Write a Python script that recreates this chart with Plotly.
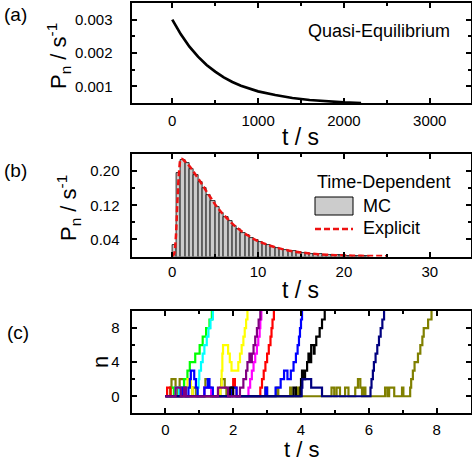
import plotly.graph_objects as go

W, H = 472, 461
FONT = "Arial, 'Liberation Sans', Helvetica, sans-serif"


def px(x):
    return x / W


def py(y):
    return 1 - y / H


# ---------------- panel (a): quasi-equilibrium ----------------
qe_t = [0, 100, 200, 300, 400, 500, 600, 700, 800, 900, 1000, 1200, 1400,
        1600, 1800, 2000, 2200]
qe_p = [0.00300, 0.00256, 0.00219, 0.00189, 0.00164, 0.00144, 0.00127,
        0.00113, 0.00102, 0.00093, 0.00085, 0.00074, 0.00065, 0.00059,
        0.00055, 0.00052, 0.00050]

# ---------------- panel (b): time-dependent ----------------
mc_t = [0.25, 0.75, 1.25, 1.75, 2.25, 2.75, 3.25, 3.75, 4.25, 4.75, 5.25,
        5.75, 6.25, 6.75, 7.25, 7.75, 8.25, 8.75, 9.25, 9.75, 10.25, 10.75,
        11.25, 11.75, 12.25, 12.75, 13.25, 13.75, 14.25, 14.75, 15.25,
        15.75, 16.25, 16.75, 17.25, 17.75, 18.25, 18.75, 19.25, 19.75,
        20.25, 20.75, 21.25, 21.75, 22.25, 22.75]
mc_p = [0.026, 0.195, 0.225, 0.218, 0.205, 0.190, 0.175, 0.160, 0.145,
        0.130, 0.115, 0.103, 0.092, 0.082, 0.072, 0.064, 0.056, 0.050,
        0.044, 0.039, 0.034, 0.030, 0.026, 0.023, 0.020, 0.018, 0.015,
        0.013, 0.012, 0.010, 0.009, 0.008, 0.007, 0.006, 0.005, 0.0045,
        0.004, 0.0035, 0.003, 0.0025, 0.002, 0.0018, 0.0015, 0.0013,
        0.0011, 0.001]
ex_t = [0, 0.2, 0.4, 0.6, 0.8, 1.0, 1.2, 1.5, 2, 2.5, 3, 3.5, 4, 4.5, 5,
        5.5, 6, 6.5, 7, 7.5, 8, 8.5, 9, 9.5, 10, 10.5, 11, 11.5, 12, 12.5,
        13, 14, 15, 16, 17, 18, 19, 20, 21, 22, 23, 24, 25]
ex_p = [0, 0.005, 0.04, 0.13, 0.20, 0.228, 0.228, 0.222, 0.212, 0.198,
        0.183, 0.168, 0.152, 0.137, 0.122, 0.109, 0.097, 0.087, 0.077,
        0.068, 0.060, 0.053, 0.047, 0.041, 0.036, 0.032, 0.028, 0.0245,
        0.0215, 0.019, 0.0165, 0.0125, 0.0095, 0.0072, 0.0055, 0.0042,
        0.0032, 0.0025, 0.0019, 0.0015, 0.0012, 0.001, 0.0008]

# ---------------- panel (c): trajectories ----------------
olive_t = [0, 0.15, 0.18, 0.3, 0.35, 0.4, 0.42, 0.55, 0.6, 0.8, 0.9, 1.15,
           1.18, 1.28, 1.35, 1.62, 1.65, 1.75, 1.8, 2.95, 3.0, 3.28, 3.33,
           3.68, 3.72, 3.88, 3.93, 4.9, 4.98, 5.05, 5.15, 5.3, 5.4, 5.6,
           5.68, 5.75, 5.8, 5.85, 5.9, 6.48, 6.55, 6.6, 6.75, 6.98, 7.02,
           7.22, 7.25, 7.3, 7.35, 7.45, 7.52, 7.58, 7.62, 7.75, 7.85]
olive_n = [0, 1, 2, 1, 0, 1, 2, 1, 0, 1, 0, 1, 2, 1, 0, 1, 2, 1, 0, 1, 0,
           1, 0, 1, 0, 1, 0, 1, 0, 1, 0, 1, 0, 1, 2, 1, 0, 1, 0, 1, 0, 1,
           0, 1, 0, 1, 2, 3, 4, 5, 6, 7, 8, 9, 10]
green_t = [0, 0.15, 0.25, 0.45, 0.55, 0.65, 0.72, 0.88, 1.01, 1.1, 1.2,
           1.3, 1.37]
green_n = [0, 1, 0, 1, 2, 3, 4, 5, 6, 7, 8, 9, 10]
cyan_t = [0, 0.3, 0.4, 0.95, 0.98, 1.0, 1.05, 1.1, 1.15, 1.22, 1.27, 1.33,
          1.4]
cyan_n = [0, 1, 0, 1, 2, 3, 4, 5, 6, 7, 8, 9, 10]
yellow_t = [0, 0.6, 0.65, 0.75, 0.8, 1.62, 1.66, 1.68, 1.7, 1.85, 1.9,
            1.95, 2.15, 2.2, 2.25, 2.3, 2.34, 2.38, 2.42]
yellow_n = [0, 1, 2, 1, 0, 1, 3, 5, 6, 5, 4, 3, 4, 5, 6, 7, 8, 9, 10]
red_t = [0, 0.05, 0.15, 1.95, 2.0, 2.05, 2.1, 2.8, 2.85, 2.9, 2.95, 3.0,
         3.05, 3.1, 3.13, 3.16, 3.2]
red_n = [0, 1, 0, 1, 2, 1, 0, 1, 2, 3, 4, 5, 6, 7, 8, 9, 10]
magenta_t = [0, 1.15, 1.35, 2.45, 2.5, 2.55, 2.6, 2.65, 2.7, 2.74, 2.78,
             2.8, 2.83]
magenta_n = [0, 1, 0, 1, 2, 3, 4, 5, 6, 7, 8, 9, 10]
blue_t = [0, 0.5, 0.6, 0.68, 0.72, 0.75, 0.85, 0.9, 0.95, 1.15, 1.25, 1.3,
          1.4, 1.95, 2.1, 2.95, 3.0, 3.25, 3.4, 3.5, 3.6, 3.7, 3.78, 3.85,
          3.9, 3.94, 3.97, 4.0, 4.03]
blue_n = [0, 1, 0, 1, 2, 3, 2, 1, 0, 1, 2, 1, 0, 1, 0, 1, 0, 1, 2, 3, 2,
          3, 4, 5, 6, 7, 8, 9, 10]
black_t = [0, 1.9, 2.0, 3.78, 3.85, 3.98, 4.0, 4.03, 4.08, 4.12, 4.18,
           4.22, 4.26, 4.3, 4.38, 4.4, 4.45, 4.55, 4.62, 4.7]
black_n = [0, 1, 0, 1, 0, 1, 2, 3, 2, 3, 4, 5, 4, 6, 5, 6, 7, 8, 9, 10]
navy_t = [0, 4.02, 4.04, 4.3, 4.62, 6.05, 6.08, 6.12, 6.15, 6.2, 6.25, 6.3,
          6.35, 6.4, 6.45]
navy_n = [0, 1, 2, 1, 0, 1, 2, 3, 4, 5, 6, 7, 8, 9, 10]
purple_t = [0, 0.3, 0.45, 0.55, 0.6, 1.55, 1.85, 2.2, 2.3, 2.38, 2.42,
            2.48, 2.52, 2.55, 2.6, 2.65, 2.7, 2.75, 2.8]
purple_n = [0, 1, 0, 1, 0, 1, 0, 1, 2, 3, 4, 5, 4, 5, 6, 7, 8, 9, 10]

trajectories = [
    (olive_t, olive_n, "#808000"),
    (green_t, green_n, "#00ff00"),
    (cyan_t, cyan_n, "#00ffff"),
    (yellow_t, yellow_n, "#ffff00"),
    (red_t, red_n, "#ff0000"),
    (magenta_t, magenta_n, "#ff00ff"),
    (blue_t, blue_n, "#0000ff"),
    (black_t, black_n, "#000000"),
    (navy_t, navy_n, "#000080"),
    (purple_t, purple_n, "#800080"),
]

fig = go.Figure()

fig.add_trace(go.Scatter(x=qe_t, y=qe_p, mode="lines",
                         line=dict(color="black", width=2.7),
                         xaxis="x", yaxis="y", showlegend=False))

fig.add_trace(go.Bar(x=mc_t, y=mc_p, width=0.5,
                     marker=dict(color="#cccccc",
                                 line=dict(color="black", width=0.8)),
                     xaxis="x2", yaxis="y2", showlegend=False))
fig.add_trace(go.Scatter(x=ex_t, y=ex_p, mode="lines", line_shape="spline",
                         line=dict(color="#ee1111", width=2.5,
                                   dash="6px,3px"),
                         xaxis="x2", yaxis="y2", showlegend=False))

for tt, nn, col in trajectories:
    fig.add_trace(go.Scatter(x=tt, y=nn, mode="lines", line_shape="hv",
                             line=dict(color=col, width=2.2),
                             xaxis="x3", yaxis="y3", showlegend=False))

XL, XR = 131.5, 470.5
tickfont = dict(family=FONT, size=15, color="black")


def axis_common():
    return dict(showline=True, linewidth=2, linecolor="black", mirror="ticks",
                ticks="inside", ticklen=5, tickwidth=1.5, tickcolor="black",
                showgrid=False, zeroline=False, tickfont=tickfont)


fig.update_layout(
    width=W, height=H,
    margin=dict(l=0, r=0, t=0, b=0),
    paper_bgcolor="white", plot_bgcolor="white",
    bargap=0,
    font=dict(family=FONT, color="black"),
    xaxis=dict(domain=[px(XL), px(XR)], range=[-475, 3475], dtick=1000,
               tick0=0, anchor="y", ticklabelstandoff=3,
               minor=dict(ticks="inside", ticklen=3, dtick=500, tick0=0,
                          tickcolor="black"),
               **axis_common()),
    yaxis=dict(domain=[py(103), py(3)], range=[0.0005, 0.0035],
               tickvals=[0.001, 0.002, 0.003], tickformat=".3f",
               anchor="x", ticklabelstandoff=14,
               minor=dict(ticks="inside", ticklen=3, dtick=0.0005,
                          tick0=0, tickcolor="black"),
               **axis_common()),
    xaxis2=dict(domain=[px(XL), px(XR)], range=[-4.75, 34.75], dtick=10,
                tick0=0, anchor="y2", ticklabelstandoff=0,
                minor=dict(ticks="inside", ticklen=3, dtick=5, tick0=0,
                           tickcolor="black"),
                **axis_common()),
    yaxis2=dict(domain=[py(256.5), py(154)], range=[0, 0.24],
                tick0=0.04, dtick=0.08, tickformat=".2f", anchor="x2",
                ticklabelstandoff=7,
                minor=dict(ticks="inside", ticklen=3, dtick=0.04, tick0=0,
                           tickcolor="black"),
                **axis_common()),
    xaxis3=dict(domain=[px(XL), px(XR)], range=[-1, 9], dtick=2, tick0=0,
                anchor="y3", ticklabelstandoff=2,
                minor=dict(ticks="inside", ticklen=3, dtick=1, tick0=0,
                           tickcolor="black"),
                **axis_common()),
    yaxis3=dict(domain=[py(413.3), py(311)], range=[-2, 10], dtick=4,
                tick0=0, anchor="x3", ticklabelstandoff=7,
                minor=dict(ticks="inside", ticklen=3, dtick=2, tick0=0,
                           tickcolor="black"),
                **axis_common()),
)

ann = []


def add_text(text, x, y, size, xanchor="center", yanchor="middle",
             angle=0):
    ann.append(dict(text=text, x=px(x), y=py(y), xref="paper",
                    yref="paper", showarrow=False, xanchor=xanchor,
                    yanchor=yanchor, textangle=angle,
                    font=dict(family=FONT, size=size, color="black")))


# panel labels
add_text("(a)", 2, 15, 19, xanchor="left")
add_text("(b)", 2, 170, 19, xanchor="left")
add_text("(c)", 5, 332, 19, xanchor="left")

# y titles
ytitle = "P<sub>n</sub> / s<sup>-1</sup>"
add_text(ytitle, 59, 56, 22, angle=-90)
add_text(ytitle, 68, 208, 22, angle=-90)
add_text("n", 100, 362, 22, angle=-90)

# x titles
add_text("t / s", 300, 137, 23)
add_text("t / s", 300, 290, 23)
add_text("t / s", 301, 449.5, 22)

# panel texts / legend
add_text("Quasi-Equilibrium", 452, 31, 18, xanchor="right")
add_text("Time-Dependent", 452, 182, 18, xanchor="right")
add_text("MC", 361, 206, 18, xanchor="left")
add_text("Explicit", 361, 228, 18, xanchor="left")

fig.update_layout(annotations=ann)

fig.update_layout(shapes=[
    dict(type="rect", xref="paper", yref="paper",
         x0=px(315), x1=px(353), y0=py(215), y1=py(197),
         fillcolor="#cccccc", line=dict(color="black", width=1)),
    dict(type="line", xref="paper", yref="paper",
         x0=px(315), x1=px(353), y0=py(229), y1=py(229),
         line=dict(color="#ee1111", width=2.5, dash="6px,3px")),
])

fig.write_html(
    "out.html",
    config={"displayModeBar": False},
    post_script="document.body.style.margin='0px';"
                "document.body.style.overflow='hidden';",
)
